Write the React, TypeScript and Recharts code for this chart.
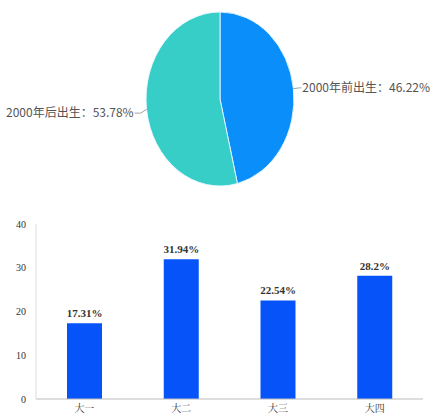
import React from "react"
import { PieChart, Pie, Cell, BarChart, Bar, XAxis, YAxis, LabelList } from "recharts"

const PIE_NAMES = ["2000年前出生", "2000年后出生"]
const PIE_VALUES = [46.22, 53.78]
const PIE_COLORS = ["#0a8ffa", "#38cec8"]

const GRADES = ["大一", "大二", "大三", "大四"]
const GRADE_VALUES = [17.31, 31.94, 22.54, 28.2]
const GRADE_LABELS = ["17.31%", "31.94%", "22.54%", "28.2%"]
const Y_TICKS = [0, 10, 20, 30, 40]
const BOUNDARY_TICKS = [0, 1, 2, 3, 4]

const pieData = PIE_NAMES.map((name, i) => ({ name, value: PIE_VALUES[i] }))
const barData = GRADES.map((grade, i) => ({ grade, value: GRADE_VALUES[i], label: GRADE_LABELS[i] }))

// the original pie is an ellipse, so the whole pie chart is squeezed horizontally
const SX = 0.85
const PIE_W = 520
const PCX = 260 // centre inside the (wider) svg
const SCREEN_CX = 220
const PCY = 99

const RADIAN = Math.PI / 180

function PieLabel(props: any) {
  const { cx, cy, midAngle, outerRadius, name, value } = props
  const cos = Math.cos(-midAngle * RADIAN)
  const sin = Math.sin(-midAngle * RADIAN)
  const right = cos >= 0
  const x0 = cx + outerRadius * cos
  const y0 = cy + outerRadius * sin
  const x1 = cx + (outerRadius + 7) * cos
  const y1 = cy + (outerRadius + 7) * sin + (right ? 0 : 3)
  const x2 = x1 + (right ? 2 : -6) / SX
  const tx = x2 + (right ? 1 : -1) / SX
  return (
    <g>
      <polyline points={`${x0},${y0} ${x1},${y1} ${x2},${y1}`} fill="none" stroke="#9a9a9a" strokeWidth={1} />
      <text
        transform={`translate(${tx},${y1}) scale(${1 / SX},1)`}
        x={0}
        y={0}
        dy={4}
        textAnchor={right ? "start" : "end"}
        fill="#555"
        fontSize={12}
        fontFamily="'Noto Sans CJK SC', 'Noto Sans', sans-serif"
      >
        {`${name}：${value}%`}
      </text>
    </g>
  )
}

export default function App() {
  return (
    <div style={{ position: "absolute", left: 0, top: 0, width: 431, height: 414, background: "#fff", overflow: "hidden" }}>
      <div
        style={{
          position: "absolute",
          left: SCREEN_CX - PCX,
          top: 0,
          transform: `scaleX(${SX})`,
          transformOrigin: `${PCX}px ${PCY}px`,
        }}
      >
        <PieChart width={PIE_W} height={200} margin={{ top: 0, right: 0, bottom: 0, left: 0 }}>
          <Pie
            data={pieData}
            dataKey="value"
            nameKey="name"
            cx={PCX}
            cy={PCY}
            outerRadius={87}
            startAngle={90}
            endAngle={-270}
            stroke="#e8f6ff"
            strokeWidth={1}
            label={PieLabel}
            labelLine={false}
            isAnimationActive={false}
          >
            {pieData.map((d, i) => (
              <Cell key={d.name} fill={PIE_COLORS[i]} />
            ))}
          </Pie>
        </PieChart>
      </div>
      <div style={{ position: "absolute", left: 0, top: 214 }}>
        <BarChart
          width={431}
          height={200}
          data={barData}
          margin={{ top: 10, right: 8, bottom: 0, left: 0 }}
          style={{ fontFamily: "'Liberation Serif', 'Times New Roman', serif" }}
        >
          <XAxis
            xAxisId="edges"
            type="number"
            domain={[0, 4]}
            ticks={BOUNDARY_TICKS}
            allowDataOverflow
            height={0}
            tick={false}
            axisLine={false}
            tickSize={4}
            tickLine={{ stroke: "#bbb" }}
          />
          <XAxis
            dataKey="grade"
            height={15}
            axisLine={{ stroke: "#bbb" }}
            tickLine={false}
            tick={{ fill: "#333", fontSize: 10, fontFamily: "'Noto Serif CJK SC', 'Noto Sans CJK SC', serif" }}
            tickMargin={0}
          />
          <YAxis
            width={36}
            domain={[0, 40]}
            ticks={Y_TICKS}
            axisLine={{ stroke: "#ddd" }}
            tickLine={false}
            tick={{ fill: "#333", fontSize: 10 }}
            tickMargin={4}
          />
          <Bar dataKey="value" fill="#0654f9" barSize={35} isAnimationActive={false}>
            <LabelList dataKey="label" position="top" offset={6} fill="#333" fontSize={11} fontWeight="bold" />
          </Bar>
        </BarChart>
      </div>
    </div>
  )
}
